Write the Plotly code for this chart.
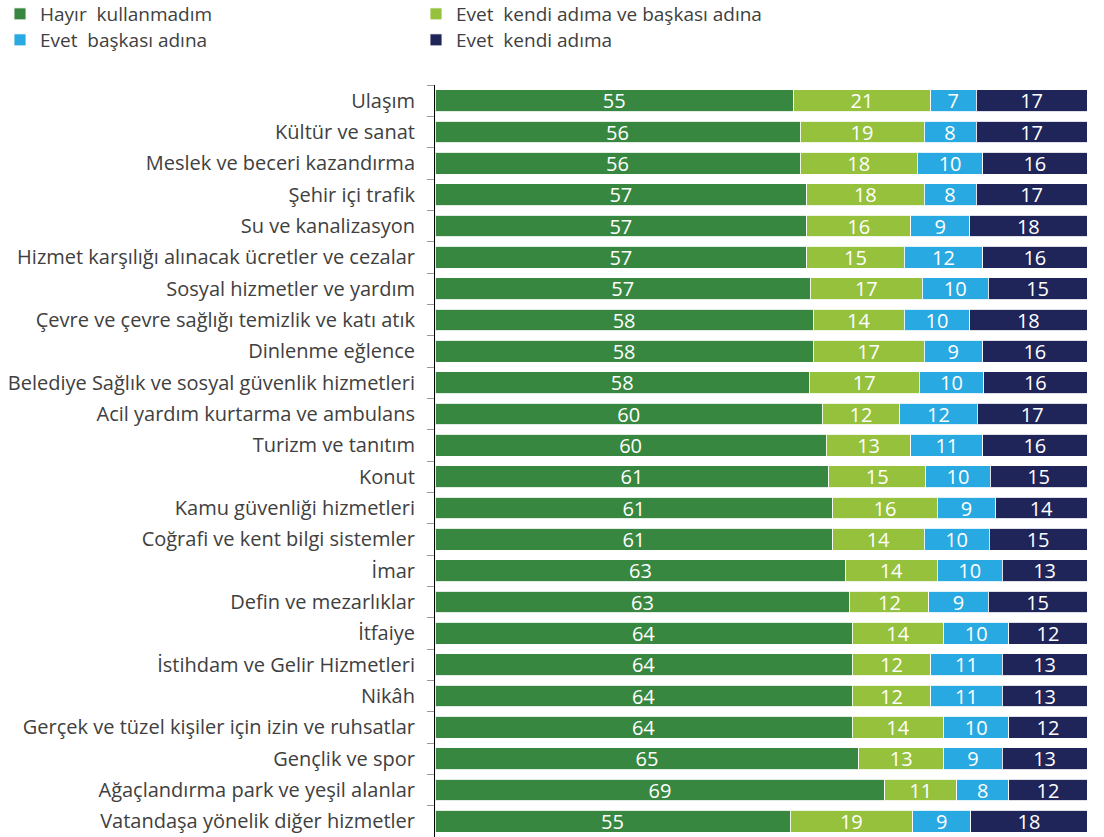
import plotly.graph_objects as go

categories = [
    "Ulaşım", "Kültür ve sanat", "Meslek ve beceri kazandırma", "Şehir içi trafik",
    "Su ve kanalizasyon", "Hizmet karşılığı alınacak ücretler ve cezalar",
    "Sosyal hizmetler ve yardım", "Çevre ve çevre sağlığı temizlik ve katı atık",
    "Dinlenme eğlence", "Belediye Sağlık ve sosyal güvenlik hizmetleri",
    "Acil yardım kurtarma ve ambulans", "Turizm ve tanıtım", "Konut",
    "Kamu güvenliği hizmetleri", "Coğrafi ve kent bilgi sistemler", "İmar",
    "Defin ve mezarlıklar", "İtfaiye", "İstihdam ve Gelir Hizmetleri", "Nikâh",
    "Gerçek ve tüzel kişiler için izin ve ruhsatlar", "Gençlik ve spor",
    "Ağaçlandırma park ve yeşil alanlar", "Vatandaşa yönelik diğer hizmetler",
]
hayir = [55, 56, 56, 57, 57, 57, 57, 58, 58, 58, 60, 60, 61, 61, 61, 63, 63, 64, 64, 64, 64, 65, 69, 55]
kendi_ve_baskasi = [21, 19, 18, 18, 16, 15, 17, 14, 17, 17, 12, 13, 15, 16, 14, 14, 12, 14, 12, 12, 14, 13, 11, 19]
baskasi = [7, 8, 10, 8, 9, 12, 10, 10, 9, 10, 12, 11, 10, 9, 10, 10, 9, 10, 11, 11, 10, 9, 8, 9]
kendi = [17, 17, 16, 17, 18, 16, 15, 18, 16, 16, 17, 16, 15, 14, 15, 13, 15, 12, 13, 13, 12, 13, 12, 18]

series = [
    ("Hayır  kullanmadım", hayir, "#388740", "legend"),
    ("Evet  kendi adıma ve başkası adına", kendi_ve_baskasi, "#95c13d", "legend2"),
    ("Evet  başkası adına", baskasi, "#28a9e1", "legend3"),
    ("Evet  kendi adıma", kendi, "#1f2459", "legend4"),
]

FONT = "Open Sans"
W, H = 1104, 837
fig = go.Figure()
for name, vals, color, lg in series:
    fig.add_trace(go.Bar(
        y=categories, x=vals, name=name, orientation="h",
        marker=dict(color=color, line=dict(color="rgba(255,255,255,0.85)", width=1)),
        text=[str(v) for v in vals], textposition="inside", insidetextanchor="middle",
        textangle=0, textfont=dict(color="white", size=20, family=FONT),
        constraintext="none", legend=lg,
    ))

T = 85
plot_h = H - T


def leg(xpx, ypx):
    return dict(xref="container", x=xpx / W, yref="paper", y=1 + (T - ypx) / plot_h,
                xanchor="left", yanchor="top", orientation="v", traceorder="normal",
                font=dict(size=19, color="#404040", family=FONT),
                itemwidth=30, bgcolor="rgba(0,0,0,0)")


fig.update_layout(
    width=W, height=H,
    barmode="stack", barnorm="percent", bargap=0.3,
    plot_bgcolor="white", paper_bgcolor="white",
    margin=dict(l=435, r=W - 1087, t=T, b=0, autoexpand=False),
    font=dict(family=FONT, size=20, color="#404040"),
    legend=leg(0, -5),
    legend2=leg(416, -5),
    legend3=leg(0, 21),
    legend4=leg(416, 21),
    showlegend=True,
)
fig.update_xaxes(range=[0, 100], showticklabels=False, showgrid=False, zeroline=False, showline=False)
fig.update_yaxes(autorange="reversed", showline=True, linecolor="black", linewidth=1,
                 ticks="outside", tickson="boundaries", ticklen=7, tickcolor="#999999",
                 showgrid=False, automargin=False, ticklabelstandoff=15,
                 tickfont=dict(size=20, color="#404040", family=FONT))

fig.write_html("out.html", config={"displayModeBar": False},
               post_script="document.body.style.margin='0';")
